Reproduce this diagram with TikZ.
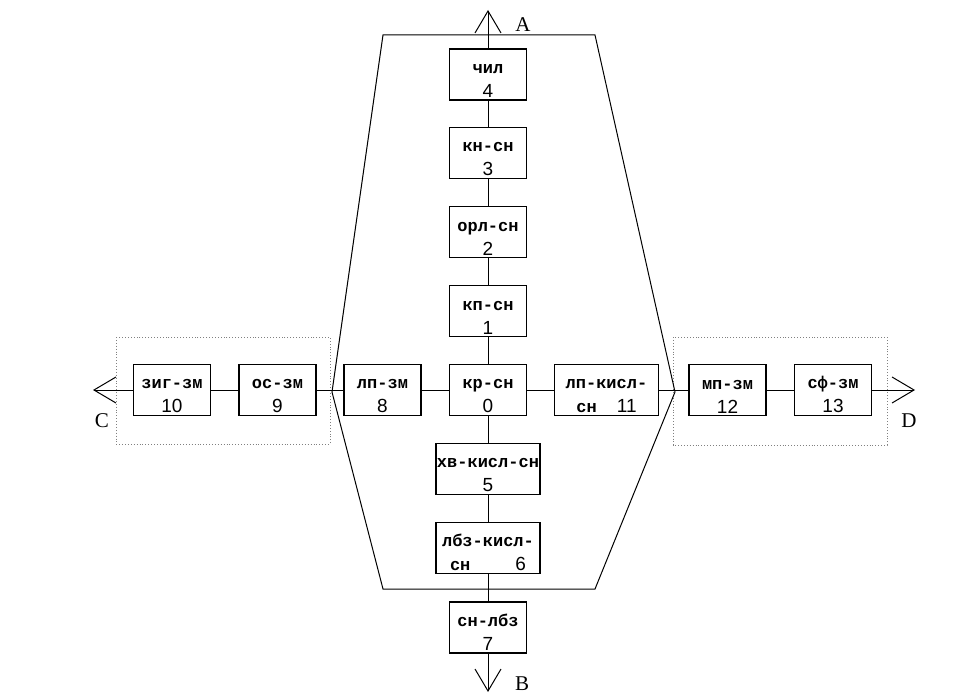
\documentclass[tikz,border=0pt]{standalone}
\usepackage{fontspec}
\setmainfont{Liberation Serif}
\newfontfamily\labfont{Liberation Mono}
\newfontfamily\numfont{Liberation Sans}
\usetikzlibrary{arrows.meta}
\newcommand\twol[2]{\rule{0pt}{22pt}{\labfont\bfseries #1}\\{\numfont\fontsize{19}{24}\selectfont #2}}
\newcommand\twosplit[3]{\rule{0pt}{22pt}{\labfont\bfseries #1}\\{\labfont\bfseries сн}\hspace{#3}{\numfont\fontsize{19}{24}\selectfont #2}}
\begin{document}
\begin{tikzpicture}[x=1pt,y=-1pt,
 blk/.style={draw,line width=1.1pt,minimum width=77pt,minimum height=51pt,inner sep=1pt,align=center,font=\fontsize{17}{24}\selectfont},
 wideblk/.style={blk,minimum width=104pt},
 conn/.style={line width=1pt},
 arr/.style={conn,-{Straight Barb[length=22pt,width=26pt,line width=1pt]}},
 zone/.style={draw=gray,dotted,line width=0.9pt},
 lbl/.style={font=\fontsize{21}{21}\selectfont,inner sep=0pt}]
\fill[white] (0,0) rectangle (975,698);
\useasboundingbox (0,0) rectangle (975,698);

% zones
\draw[zone] (116,337) rectangle (330,444);
\draw[zone] (673,337) rectangle (887,445);

% hexagon
\draw[line width=1pt] (383,35) -- (595,35) -- (675,392) -- (595,589) -- (383,589) -- (332,392) -- cycle;

% vertical column
\node[blk] (n4) at (488,74.5) {\twol{чил}{4}};
\node[blk] (n3) at (488,153) {\twol{кн-сн}{3}};
\node[blk] (n2) at (488,232) {\twol{орл-сн}{2}};
\node[blk] (n1) at (488,311) {\twol{кп-сн}{1}};
\node[blk] (n0) at (488,390) {\twol{кр-сн}{0}};
\node[wideblk] (n5) at (488,469) {\twol{хв-кисл-сн}{5}};
\node[wideblk] (n6) at (488,548) {\twosplit{лбз-кисл-}{6}{45pt}};
\node[blk] (n7) at (488,627.5) {\twol{сн-лбз}{7}};

% horizontal row
\node[blk] (n10) at (172,390) {\twol{зиг-зм}{10}};
\node[blk] (n9) at (277.5,390) {\twol{ос-зм}{9}};
\node[blk] (n8) at (382.5,390) {\twol{лп-зм}{8}};
\node[wideblk] (n11) at (606.5,390) {\twosplit{лп-кисл-}{11}{20pt}};
\node[blk,line width=1.7pt] (n12) at (727.5,390) {\twol{мп-зм}{12}};
\node[blk] (n13) at (833,390) {\twol{сф-зм}{13}};

% arrow end points
\coordinate (pA) at (488,10);
\coordinate (pB) at (488,692);
\coordinate (pC) at (93,390);
\coordinate (pD) at (915,390);

% connectors
\draw[arr] (n4) -- (pA);
\draw[conn] (n4) -- (n3);
\draw[conn] (n3) -- (n2);
\draw[conn] (n2) -- (n1);
\draw[conn] (n1) -- (n0);
\draw[conn] (n0) -- (n5);
\draw[conn] (n5) -- (n6);
\draw[conn] (n6) -- (n7);
\draw[arr] (n7) -- (pB);
\draw[arr] (n10) -- (pC);
\draw[conn] (n10) -- (n9);
\draw[conn] (n9) -- (n8);
\draw[conn] (n8) -- (n0);
\draw[conn] (n0) -- (n11);
\draw[conn] (n11) -- (n12);
\draw[conn] (n12) -- (n13);
\draw[arr] (n13) -- (pD);

% labels
\node[lbl] (lA) at (523,25) {A};
\node[lbl] (lB) at (522,684) {B};
\node[lbl] (lC) at (102,421) {C};
\node[lbl] (lD) at (909,421) {D};
\end{tikzpicture}
\end{document}
